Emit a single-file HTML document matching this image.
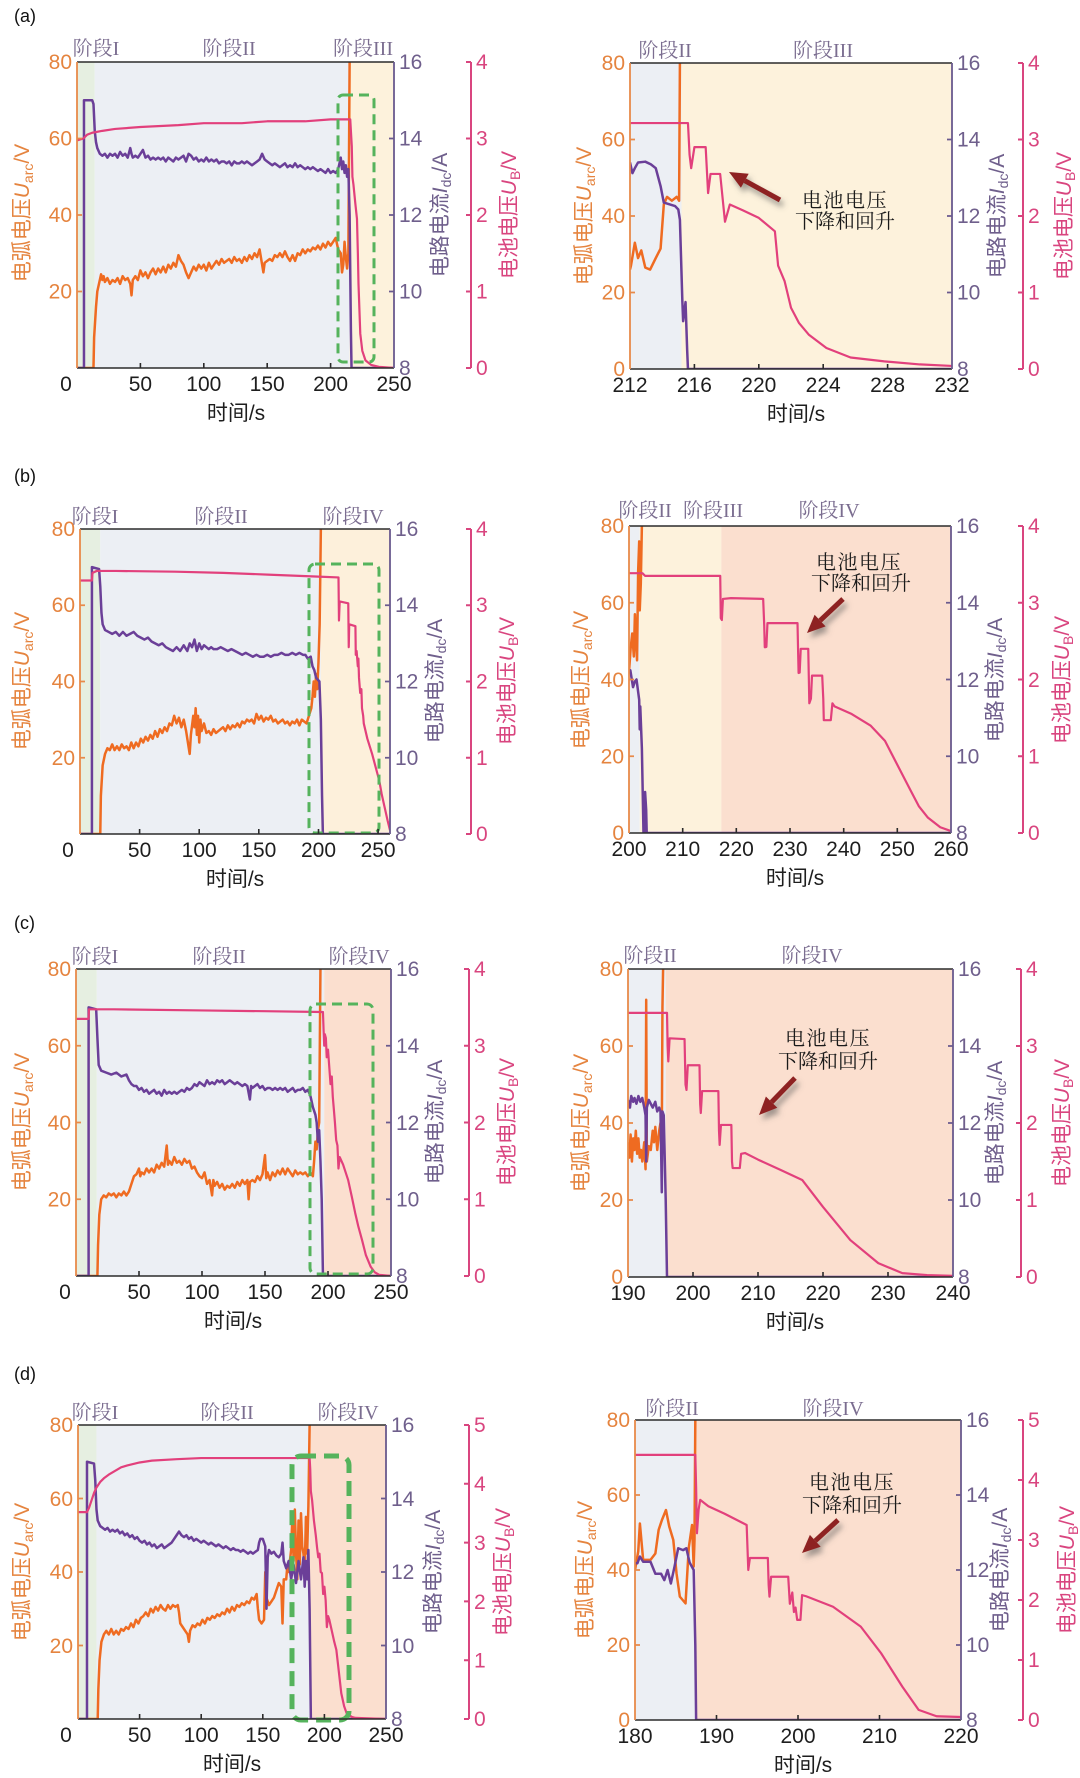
<!DOCTYPE html>
<html><head><meta charset="utf-8">
<style>
html,body{margin:0;padding:0;background:#fff;}
svg{display:block;}
.tk{font-family:"Liberation Sans","Noto Sans CJK SC",sans-serif;font-size:21px;}
.or{fill:#e5843f;}
.pu{fill:#6f5f8c;}
.pk{fill:#d9457f;}
.bk{fill:#1e1e1e;}
.ph{font-family:"Liberation Serif","Noto Serif CJK SC",serif;font-size:20px;fill:#7b6d90;}
.an{font-family:"Liberation Serif","Noto Serif CJK SC",serif;font-size:20px;fill:#1a1a1a;}
.ax{font-family:"Liberation Sans","Noto Sans CJK SC",sans-serif;font-size:21px;}
.lo{fill:none;stroke:#ef6b21;stroke-width:2.5;stroke-linejoin:round;}
.lp{fill:none;stroke:#6b3f98;stroke-width:2.5;stroke-linejoin:round;}
.lk{fill:none;stroke:#e2407c;stroke-width:2.2;stroke-linejoin:round;}
.fr{stroke:#2b2b2b;stroke-width:1.6;fill:none;}
.ao{stroke:#e88a4a;stroke-width:1.8;fill:none;}
.ap{stroke:#6a5a8e;stroke-width:1.8;fill:none;}
.ak{stroke:#d9457f;stroke-width:2;fill:none;}
.gb{fill:none;stroke:#55b35c;stroke-width:3;stroke-dasharray:10 6;}
</style></head>
<body>
<svg width="1080" height="1778" viewBox="0 0 1080 1778" xmlns="http://www.w3.org/2000/svg">
<defs>
<filter id="sh" x="-50%" y="-50%" width="200%" height="200%">
<feDropShadow dx="3" dy="5" stdDeviation="3" flood-color="#555" flood-opacity="0.55"/>
</filter>
</defs>
<rect width="1080" height="1778" fill="#fff"/>

<!-- ================= (a) LEFT ================= -->
<svg x="77" y="62" width="317" height="306" viewBox="0 0 250 80" preserveAspectRatio="none">
<g transform="translate(0,80) scale(1,-1)">
<rect x="0" y="0" width="14" height="80" fill="#e6efe1"/>
<rect x="14" y="0" width="201" height="80" fill="#eceff4"/>
<rect x="215" y="0" width="35" height="80" fill="#fdf2dc"/>
<polyline vector-effect="non-scaling-stroke" class="lo" points="0,0 13,0 13.5,8 15,16 16,20 18,23 19,24.5 20,23 21,24 22,22.5 24,23.5 26,22 28,23 30,22.5 32,23.5 34,22 36,24 38,23 40,23.5 42,22 43,19 44,23 46,24 48,23 50,25.5 52,24 54,25 56,23.5 58,25 60,26 62,24.5 64,26 66,25 68,26.5 70,25 72,27 74,26 76,27.5 78,26.5 80,29.5 82,28 84,27 86,25 88,23.5 90,25 92,26.5 94,25.5 96,27 98,26 100,27 102,25.5 104,27.5 106,26 108,27 110,28 112,27 114,28.5 116,27.5 118,28 120,28.5 122,27.5 124,29 126,28 128,28.5 130,27.5 132,29 134,28 136,29.5 138,28.5 140,30 142,29 144,31 146,27 147,25 148,27.5 150,28 152,28.5 154,28 156,29.5 158,29 160,30 162,29 164,30.5 166,29 168,28 170,29.5 172,28 174,30 176,29.5 178,31 180,30 182,31 184,30.5 186,31.5 188,31 190,32 192,31 194,32.5 196,31.5 198,33 200,32 202,33 204,34 206,31 208,30 209,25 210,27 211,33 212,29 213,26 214,30 215,80 215.2,86 250,86"/>
<polyline vector-effect="non-scaling-stroke" class="lp" points="0,0 5.5,0 5.5,70 12,70 13,69 14,62 15,59 16,57.5 18,56 20,55.5 22,56 24,55 26,56 28,55.5 30,56 32,55 34,56.5 36,55.5 38,56 40,55 42,57.5 43,56 44,55 46,55.5 48,55 50,56 52,57 54,55 56,55.5 58,54.5 60,55 62,54.5 64,55 66,54.5 68,55 70,54 72,55 74,54.5 76,54 78,55 80,54.5 82,55 84,55.5 86,54 88,56 90,55.5 92,54.5 94,55 96,54 98,54.5 100,54 102,55 104,54 106,54.5 108,54 110,54.5 112,53.5 114,54 116,54 118,53.5 120,54 122,53 124,54 126,53.5 128,53.5 130,54 132,53.5 134,54 136,53.5 138,53 140,53.5 142,54 144,54.5 146,56 148,54.5 150,54 152,53.5 154,53 156,53.5 158,53 160,52.5 162,53 164,53.5 166,52.5 168,53 170,52.5 172,53.5 174,52.5 176,53 178,52.5 180,52 182,52.5 184,52 186,52.5 188,52 190,51.5 192,52 194,51.5 196,51 198,52 200,51 202,51.5 204,51 206,52 208,55 209,52 210,54 211,51 212,53 213,50 214,52 215,40 216,10 216.5,0 250,0"/>
<polyline vector-effect="non-scaling-stroke" class="lk" points="0,59.5 5,60 8,61 12,61.5 20,62 30,62.5 50,63 80,63.5 100,64 130,64 150,64.5 180,64.5 200,65 214,65 215.5,65 216,62 216.7,58 217.2,50 218,48 219.5,43 220.8,39 221.5,30 222,22 223.4,9 225,4.5 227.5,2 232,0.8 238,0.3 250,0"/>
</g></svg>
<rect class="gb" x="338" y="95" width="36" height="267" rx="5"/>
<path class="fr" d="M77 62H394M77 368H394"/>
<path class="ao" d="M77 62V368M77 291.5h5M77 215h5M77 138.5h5"/>
<path class="ap" d="M394 62V368M394 291.5h-5M394 215h-5M394 138.5h-5"/>
<path class="fr" d="M140.4 368v-5M203.8 368v-5M267.2 368v-5M330.6 368v-5"/>
<path class="ak" d="M471 62V368M471 62h-5M471 138.5h-5M471 215h-5M471 291.5h-5M471 368h-5"/>
<g class="tk or" text-anchor="end"><text x="72" y="69">80</text><text x="72" y="145.5">60</text><text x="72" y="222">40</text><text x="72" y="298.5">20</text></g>
<g class="tk pu"><text x="399" y="69">16</text><text x="399" y="145.5">14</text><text x="399" y="222">12</text><text x="399" y="298.5">10</text><text x="399" y="375">8</text></g>
<g class="tk pk"><text x="476" y="69">4</text><text x="476" y="145.5">3</text><text x="476" y="222">2</text><text x="476" y="298.5">1</text><text x="476" y="375">0</text></g>
<g class="tk bk" text-anchor="middle"><text x="66" y="391">0</text><text x="140.4" y="391">50</text><text x="203.8" y="391">100</text><text x="267.2" y="391">150</text><text x="330.6" y="391">200</text><text x="394" y="391">250</text></g>
<text class="ax bk" x="236" y="420" text-anchor="middle">时间/s</text>

<!-- ================= (a) RIGHT ================= -->
<svg x="630" y="63" width="322" height="306" viewBox="0 0 20 80" preserveAspectRatio="none">
<g transform="translate(-212,80) scale(1,-1)">
<rect x="212" y="0" width="3.2" height="80" fill="#eceff4"/>
<rect x="215.2" y="0" width="17" height="80" fill="#fdf2dc"/>
<polyline vector-effect="non-scaling-stroke" class="lo" points="212,26 212.06,27 212.3,33 212.5,29 212.7,31 212.95,26.5 213.25,26 213.6,29 213.9,31.5 214.1,43 214.3,45 214.6,44 214.9,45 215.05,44 215.1,80 215.12,86 232,86"/>
<polyline vector-effect="non-scaling-stroke" class="lp" points="212,54 212.15,51.2 212.3,52.5 212.5,54 212.95,54.2 213.3,53.5 213.6,52.5 213.9,47.8 214.1,43.5 214.8,42.6 215,41.7 215.1,39 215.25,18 215.3,12.5 215.45,17.5 215.55,5 215.6,0 232,0"/>
<polyline vector-effect="non-scaling-stroke" class="lk" points="212,64.3 215.6,64.3 215.7,56 215.8,52.5 216.0,58 216.7,58 216.85,46 217.0,51 217.6,51 217.9,38.5 218.2,43 219,41.5 220,39.5 221,36 221.2,27 221.6,23 222,16 222.5,12 223.1,9 224.2,5.5 225.7,3 227.8,2 230,1.2 232,0.8"/>
</g></svg>
<path class="fr" d="M630 63H952M630 369H952"/>
<path class="ao" d="M630 63V369M630 292.5h5M630 216h5M630 139.5h5"/>
<path class="ap" d="M952 63V369M952 292.5h-5M952 216h-5M952 139.5h-5"/>
<path class="fr" d="M694.4 369v-5M758.8 369v-5M823.2 369v-5M887.6 369v-5"/>
<path class="ak" d="M1023 63V369M1023 63h-5M1023 139.5h-5M1023 216h-5M1023 292.5h-5M1023 369h-5"/>
<g class="tk or" text-anchor="end"><text x="625" y="70">80</text><text x="625" y="146.5">60</text><text x="625" y="223">40</text><text x="625" y="299.5">20</text><text x="625" y="376">0</text></g>
<g class="tk pu"><text x="957" y="70">16</text><text x="957" y="146.5">14</text><text x="957" y="223">12</text><text x="957" y="299.5">10</text><text x="957" y="376">8</text></g>
<g class="tk pk"><text x="1028" y="70">4</text><text x="1028" y="146.5">3</text><text x="1028" y="223">2</text><text x="1028" y="299.5">1</text><text x="1028" y="376">0</text></g>
<g class="tk bk" text-anchor="middle"><text x="630" y="392">212</text><text x="694.4" y="392">216</text><text x="758.8" y="392">220</text><text x="823.2" y="392">224</text><text x="887.6" y="392">228</text><text x="952" y="392">232</text></g>
<text class="ax bk" x="796" y="421" text-anchor="middle">时间/s</text>

<!-- ================= (b) LEFT ================= -->
<svg x="80" y="529" width="310" height="305" viewBox="0 0 260 80" preserveAspectRatio="none">
<g transform="translate(0,80) scale(1,-1)">
<rect x="0" y="0" width="17" height="80" fill="#e6efe1"/>
<rect x="17" y="0" width="185" height="80" fill="#eceff4"/>
<rect x="202" y="0" width="58" height="80" fill="#fdf0db"/>
<polyline vector-effect="non-scaling-stroke" class="lo" points="0,0 17,0 17.5,10 19,18 21,21 23,22.5 25,22 27,23.5 29,22 31,23 33,22 35,23.5 37,22.5 39,23 41,22 43,24 45,22.5 47,24 49,23 51,25 53,24 55,25.5 57,24.5 59,26 61,25 63,27 65,25.5 67,27.5 69,26.5 71,28 73,27 75,29 77,28.5 79,31 81,29 83,30.5 85,28 87,30 89,27 91,23 92,21 93,26 95,31 96,28 97,33 98,26 99,31 100,24 101,30 102,27 104,29 106,26.5 108,27 110,26 112,27.5 114,26.5 116,27 118,27.5 120,28 122,27 124,28.5 126,27.5 128,28.5 130,28 132,29 134,28 136,29.5 138,29 140,30 142,29.5 144,30 146,29 148,31.5 150,30 152,31 154,29.5 156,30.5 158,30 160,31 162,29.5 164,30 166,29 168,29.5 170,30 172,29 174,29.5 176,28.5 178,29.5 180,29 182,30 184,28.5 186,30 188,29.5 190,29 192,31 194,33 195,36 196,40 197,36 198,42 199,38 200,45 201,55 202,80 202.2,86 260,86"/>
<polyline vector-effect="non-scaling-stroke" class="lp" points="0,0 10,0 10,70 16,69.5 17,65 18,58 19,55 21,53.5 24,53 27,52.5 30,53 33,52 36,53 39,52 42,52.5 45,53 48,52 51,51.5 54,51 57,51.5 60,50.5 63,50 66,49.5 69,50 72,49 75,48.5 78,48 81,49 84,48 87,49.5 90,48 92,50 94,49 96,51 98,48 100,50 102,48.5 104,49.5 106,49 108,48.5 110,49 112,48.5 115,48.5 118,49 121,48.5 124,48 127,48.5 130,48 133,47.5 136,47 139,47.5 142,47 145,46.5 148,47 151,46.5 154,46.5 157,47 160,46.5 163,47 166,47 169,47.5 172,47 175,47 178,47.5 181,47 184,47.5 187,47 189,47 191,46 193.5,46.5 195,44 196.5,43 198,41 200.8,40 202,30 203,10 203.7,0 260,0"/>
<polyline vector-effect="non-scaling-stroke" class="lk" points="0,66.5 10,66.5 10.5,68.5 14,69 30,69 80,68.8 120,68.5 160,68 200,67.5 216.8,67.3 217.2,56 217.8,61 225,60.5 225.4,49 225.8,55 231,54.5 231.3,47 232,48 233,44 233.5,46 234,41 235,37 236,38 236.5,33 237.5,31 238,29 241,25 245,21 248,17.5 251,14 253,10.5 255.5,7 258,3.5 260,1"/>
</g></svg>
<rect class="gb" x="309" y="564" width="70" height="269" rx="6"/>
<path class="fr" d="M80 529H390M80 834H390"/>
<path class="ao" d="M80 529V834M80 757.75h5M80 681.5h5M80 605.25h5"/>
<path class="ap" d="M390 529V834M390 757.75h-5M390 681.5h-5M390 605.25h-5"/>
<path class="fr" d="M139.6 834v-5M199.2 834v-5M258.8 834v-5M318.5 834v-5M378.1 834v-5"/>
<path class="ak" d="M471 529V834M471 529h-5M471 605.25h-5M471 681.5h-5M471 757.75h-5M471 834h-5"/>
<g class="tk or" text-anchor="end"><text x="75" y="536">80</text><text x="75" y="612">60</text><text x="75" y="688.5">40</text><text x="75" y="765">20</text></g>
<g class="tk pu"><text x="395" y="536">16</text><text x="395" y="612">14</text><text x="395" y="688.5">12</text><text x="395" y="765">10</text><text x="395" y="841">8</text></g>
<g class="tk pk"><text x="476" y="536">4</text><text x="476" y="612">3</text><text x="476" y="688.5">2</text><text x="476" y="765">1</text><text x="476" y="841">0</text></g>
<g class="tk bk" text-anchor="middle"><text x="68" y="857">0</text><text x="139.6" y="857">50</text><text x="199.2" y="857">100</text><text x="258.8" y="857">150</text><text x="318.5" y="857">200</text><text x="378.1" y="857">250</text></g>
<text class="ax bk" x="235" y="886" text-anchor="middle">时间/s</text>

<!-- ================= (b) RIGHT ================= -->
<svg x="629" y="526" width="322" height="307" viewBox="0 0 60 80" preserveAspectRatio="none">
<g transform="translate(-200,80) scale(1,-1)">
<rect x="200" y="0" width="2" height="80" fill="#eceff4"/>
<rect x="202" y="0" width="15.2" height="80" fill="#fdf2dc"/>
<rect x="217.2" y="0" width="43" height="80" fill="#fbdfcf"/>
<polyline vector-effect="non-scaling-stroke" class="lo" points="200,42 200.3,48 200.6,52 200.9,46 201.1,57 201.3,50 201.5,45 201.7,68 201.9,76 202.0,58 202.2,65 202.4,80 202.5,86 260,86"/>
<polyline vector-effect="non-scaling-stroke" class="lp" points="200,42 200.25,42.4 200.75,38 201.1,39.5 201.4,40 201.9,34.7 202,27 202.1,33 202.4,22 202.7,0 202.9,0 203,10.7 203.2,6 203.3,0 260,0"/>
<polyline vector-effect="non-scaling-stroke" class="lk" points="200,67.7 202.5,67.7 203,67 217,67 217.1,56 217.3,55.5 217.5,61 219,61.2 225,61 225.2,54 225.3,48.4 225.6,48.5 225.8,54.7 231.4,54.7 231.5,48 231.6,41.7 231.8,41.8 232,48 233.4,48 233.5,41 233.6,33.8 233.9,35 234.1,41 236,41 236.2,35 236.3,29.4 237.6,29.4 237.9,33.8 238.3,33 241.5,31 245,28 247.7,24 250.8,15.6 252.5,11 254,7 255.7,4 258,1.5 260,0.5"/>
</g></svg>
<path class="fr" d="M629 526H951M629 833H951"/>
<path class="ao" d="M629 526V833M629 756.25h5M629 679.5h5M629 602.75h5"/>
<path class="ap" d="M951 526V833M951 756.25h-5M951 679.5h-5M951 602.75h-5"/>
<path class="fr" d="M682.7 833v-5M736.3 833v-5M790 833v-5M843.7 833v-5M897.3 833v-5"/>
<path class="ak" d="M1023 526V833M1023 526h-5M1023 602.75h-5M1023 679.5h-5M1023 756.25h-5M1023 833h-5"/>
<g class="tk or" text-anchor="end"><text x="624" y="533">80</text><text x="624" y="610">60</text><text x="624" y="687">40</text><text x="624" y="763.5">20</text><text x="624" y="840">0</text></g>
<g class="tk pu"><text x="956" y="533">16</text><text x="956" y="610">14</text><text x="956" y="687">12</text><text x="956" y="763.5">10</text><text x="956" y="840">8</text></g>
<g class="tk pk"><text x="1028" y="533">4</text><text x="1028" y="610">3</text><text x="1028" y="687">2</text><text x="1028" y="763.5">1</text><text x="1028" y="840">0</text></g>
<g class="tk bk" text-anchor="middle"><text x="629" y="856">200</text><text x="682.7" y="856">210</text><text x="736.3" y="856">220</text><text x="790" y="856">230</text><text x="843.7" y="856">240</text><text x="897.3" y="856">250</text><text x="951" y="856">260</text></g>
<text class="ax bk" x="795" y="885" text-anchor="middle">时间/s</text>

<!-- ================= (c) LEFT ================= -->
<svg x="76" y="969" width="315" height="307" viewBox="0 0 250 80" preserveAspectRatio="none">
<g transform="translate(0,80) scale(1,-1)">
<rect x="0" y="0" width="16.5" height="80" fill="#e6efe1"/>
<rect x="16.5" y="0" width="180.5" height="80" fill="#eceff4"/>
<rect x="197" y="0" width="53" height="80" fill="#fbdfcf"/>
<polyline vector-effect="non-scaling-stroke" class="lo" points="0,0 17,0 17.5,8 18.5,16 20,20 22,21 24,20.5 26,21.5 28,21 30,21.5 32,20.5 34,21.5 36,21 38,22 40,21 42,22 44,24 46,26 48,26.5 50,28 51,26 52,27 54,26.5 56,28 58,27 60,28 62,27 64,29 66,28 68,29.5 70,28.5 72,34 73,29 74,30 76,29 78,31 80,29.5 82,30 84,29 86,30.5 88,29.5 90,30 92,28 94,28.5 96,27 98,26 100,25.5 102,27 104,24 106,25 108,21 109,25 110,23.5 112,24.5 114,23 116,24 118,22.5 120,23.5 122,23 124,24 126,23 128,24.5 130,23.5 132,25 134,24 136,25 137,20 138,24.5 140,25 142,24.5 144,26 146,25 148,26.5 150,31.5 151,25.5 152,27 154,25 156,27 158,26 160,27.5 162,26.5 164,28 166,26.5 168,28 170,27 172,26 174,27.5 176,26.5 178,27 180,26.5 182,27 184,26 186,27 188,26 189,30 190,35 191,33 192,38 193,40 194,80 194.5,86 250,86"/>
<polyline vector-effect="non-scaling-stroke" class="lp" points="0,0 10,0 10,70 16,69.5 17,62 18,55 20,53.5 24,53 28,52.5 32,53 36,52 40,52.5 42,51 44,50 46,49.5 48,49.5 50,48.5 52,49 54,48 56,48.5 58,47.5 60,48 62,48.5 64,47.5 66,48 68,47 70,48.5 72,47.5 74,48 76,47.5 78,48 80,47.5 82,48 84,48.5 86,48 88,49 90,48.5 92,49 94,50 96,49.5 98,50.5 100,50 102,49.5 104,51 106,50 108,50.5 110,50 112,51 114,50.5 116,51 118,50 120,50.5 122,51 124,50.5 126,50 128,50.5 130,50 132,49.5 134,50 136,49.5 138,46 139,49.5 140,49 142,49.5 144,50 146,49 148,49.5 150,48.5 152,49 154,49 156,48.5 158,49 160,48.5 162,49 164,48.5 166,49 168,48 170,48.5 172,49 174,48 176,48.5 178,48.5 180,49 182,48 184,48.5 186,47 188,44 190,42 191,40 192,35 193,38 194,30 195,20 196,0 250,0"/>
<polyline vector-effect="non-scaling-stroke" class="lk" points="0,67 10,67 10.3,69.5 30,69.5 100,69.2 150,69 195,68.8 196,68.8 196.5,64 197,60 197.5,63 198.3,62 199,57 200,59 201,54.5 202,50 203,52 203.8,46.7 204.5,44 205.5,40 206.5,35.4 207.5,34 208.3,28 209.3,31 212,29 216,25 219,20.5 221.6,16.4 224,13 227,9.4 230,5.5 233.9,2.4 237,1 240.6,0.3 250,0"/>
</g></svg>
<rect class="gb" x="310" y="1004" width="63" height="270" rx="6"/>
<path class="fr" d="M76 969H391M76 1276H391"/>
<path class="ao" d="M76 969V1276M76 1199.25h5M76 1122.5h5M76 1045.75h5"/>
<path class="ap" d="M391 969V1276M391 1199.25h-5M391 1122.5h-5M391 1045.75h-5"/>
<path class="fr" d="M139 1276v-5M202 1276v-5M265 1276v-5M328 1276v-5"/>
<path class="ak" d="M469 969V1276M469 969h-5M469 1045.75h-5M469 1122.5h-5M469 1199.25h-5M469 1276h-5"/>
<g class="tk or" text-anchor="end"><text x="71" y="976">80</text><text x="71" y="1053">60</text><text x="71" y="1130">40</text><text x="71" y="1206.5">20</text></g>
<g class="tk pu"><text x="396" y="976">16</text><text x="396" y="1053">14</text><text x="396" y="1130">12</text><text x="396" y="1206.5">10</text><text x="396" y="1283">8</text></g>
<g class="tk pk"><text x="474" y="976">4</text><text x="474" y="1053">3</text><text x="474" y="1130">2</text><text x="474" y="1206.5">1</text><text x="474" y="1283">0</text></g>
<g class="tk bk" text-anchor="middle"><text x="65" y="1299">0</text><text x="139" y="1299">50</text><text x="202" y="1299">100</text><text x="265" y="1299">150</text><text x="328" y="1299">200</text><text x="391" y="1299">250</text></g>
<text class="ax bk" x="233" y="1328" text-anchor="middle">时间/s</text>

<!-- ================= (c) RIGHT ================= -->
<svg x="628" y="969" width="325" height="308" viewBox="0 0 50 80" preserveAspectRatio="none">
<g transform="translate(-190,80) scale(1,-1)">
<rect x="190" y="0" width="5.8" height="80" fill="#eceff4"/>
<rect x="195.8" y="0" width="45" height="80" fill="#fbdfcf"/>
<polyline vector-effect="non-scaling-stroke" class="lo" points="190,35 190.2,31 190.4,37 190.6,30 190.8,36 191,33 191.2,38 191.4,32 191.6,36 191.8,31 192,33 192.2,30 192.5,35 192.7,28 192.8,72 192.9,30 193.2,34 193.5,33 193.8,38 194,35 194.2,39 194.5,33 194.8,38 195,40 195.2,36 195.3,70 195.4,80 195.45,86 240,86"/>
<polyline vector-effect="non-scaling-stroke" class="lp" points="190,46 190.3,44 190.5,47 190.8,45.5 191,46.5 191.3,45 191.6,47 191.9,45.5 192.2,46.5 192.5,44 192.7,42 192.8,30 192.9,44 193.2,46 193.5,45 193.8,44 194.2,45.5 194.5,43 194.8,44 195,43 195.2,22 195.3,43 195.5,42 195.8,20 196,0 240,0"/>
<polyline vector-effect="non-scaling-stroke" class="lk" points="190,68.6 196,68.6 196.1,60 196.2,56 196.4,62 198.7,61.8 198.85,50 199,48.6 199.2,55 201,55 201.1,45 201.2,42.6 201.4,48.3 203.9,48.3 204.0,38 204.1,34.3 204.3,39.5 205.9,39.5 206,30 206.1,28.3 207.2,28.3 207.4,32 208,32.2 210,30.5 213.5,27.8 216.8,25.2 220,18.2 224.2,9.6 228.5,3.6 232.2,1 236,0.5 240,0.3"/>
</g></svg>
<path class="fr" d="M628 969H953M628 1277H953"/>
<path class="ao" d="M628 969V1277M628 1200h5M628 1123h5M628 1046h5"/>
<path class="ap" d="M953 969V1277M953 1200h-5M953 1123h-5M953 1046h-5"/>
<path class="fr" d="M693 1277v-5M758 1277v-5M823 1277v-5M888 1277v-5"/>
<path class="ak" d="M1021 969V1277M1021 969h-5M1021 1046h-5M1021 1123h-5M1021 1200h-5M1021 1277h-5"/>
<g class="tk or" text-anchor="end"><text x="623" y="976">80</text><text x="623" y="1053">60</text><text x="623" y="1130">40</text><text x="623" y="1207">20</text><text x="623" y="1284">0</text></g>
<g class="tk pu"><text x="958" y="976">16</text><text x="958" y="1053">14</text><text x="958" y="1130">12</text><text x="958" y="1207">10</text><text x="958" y="1284">8</text></g>
<g class="tk pk"><text x="1026" y="976">4</text><text x="1026" y="1053">3</text><text x="1026" y="1130">2</text><text x="1026" y="1207">1</text><text x="1026" y="1284">0</text></g>
<g class="tk bk" text-anchor="middle"><text x="628" y="1300">190</text><text x="693" y="1300">200</text><text x="758" y="1300">210</text><text x="823" y="1300">220</text><text x="888" y="1300">230</text><text x="953" y="1300">240</text></g>
<text class="ax bk" x="795" y="1329" text-anchor="middle">时间/s</text>

<!-- ================= (d) LEFT ================= -->
<svg x="78" y="1425" width="308" height="294" viewBox="0 0 250 80" preserveAspectRatio="none">
<g transform="translate(0,80) scale(1,-1)">
<rect x="0" y="0" width="15" height="80" fill="#e6efe1"/>
<rect x="15" y="0" width="173" height="80" fill="#eceff4"/>
<rect x="188" y="0" width="62" height="80" fill="#fbdfcf"/>
<polyline vector-effect="non-scaling-stroke" class="lo" points="0,0 16,0 16.5,8 17.5,16 19,21 21,23 23,24 25,23 27,24.5 29,23 31,24 33,23 35,24.5 37,24 39,25 41,24.5 43,26 45,25 47,27 49,26 51,27.5 53,28 55,29 57,28 59,30 61,29 63,30.5 65,29.5 67,31 69,30 71,29.5 73,31 75,30 77,31 79,30.5 81,31 82,29 83,26 85,25 87,24 89,23 90,21 91,24 93,25.5 95,25 97,26 99,25.5 101,27 103,26 105,27.5 107,27 109,28 111,27.5 113,28.5 115,28 117,29 119,28.5 121,30 123,29 125,30.5 127,29.5 129,31 131,30.5 133,31.5 135,31 137,32 139,31.5 141,33 143,32.5 145,34 146,30 147,27 149,26 151,27 152,40 153,33 155,31 157,32 159,33 161,35 163,37 165,36 166,26 167,38 169,38 170,42 171,40 173,46 174,55 175,43 176,57 177,45 178,38 179,54 180,42 181,56 182,47 183,45 184,40 185,55 186,45 187,58 188,80 188.5,86 250,86"/>
<polyline vector-effect="non-scaling-stroke" class="lp" points="0,0 7.3,0 7.3,70 13,69.5 14,65 15,57 16,54 18,52.5 20,52 22,51.5 24,52 26,51 28,51.5 30,51 32,51.5 34,50.5 36,51 38,50 40,50.5 42,49.5 44,50 46,49 48,49.5 50,48.5 52,48 54,48.5 56,47.5 58,48 60,47 62,47.5 64,46.5 66,47 68,47.5 70,46.5 72,47 74,47.5 76,48 78,49 80,50 82,51 84,50 86,49.5 88,50 90,49 92,49.5 94,48.5 96,49 98,48.5 100,48 102,48.5 104,48 106,47.5 108,48 110,47.5 112,47 114,47.5 116,47 118,46.5 120,47 122,46.5 124,46 126,46.5 128,46 130,46 132,45.5 134,46 136,45.5 138,45 140,45.5 142,45 144,45.5 146,46 147,48 148,49 150,49 151,48 152,47 153,30 154,44 155,46 157,45 159,45.5 161,44.5 163,44 165,45 166,48 167,43 169,41 171,43 173,38 175,42 177,37 179,43 181,38 183,44 184,36 185,43 186,38 187,46 188,30 189,0 250,0"/>
<polyline vector-effect="non-scaling-stroke" class="lk" points="0,56.3 7.3,56.3 9,57.5 11,59.5 13,61.5 15,63 18,64.5 21,65.5 25,66.5 30,67.5 35,68.5 40,69 50,69.8 60,70.3 80,70.7 100,71 150,71 188,71 188.5,68 189,62 190,59.6 191.5,54 193,50 194,46.8 195,44 196,45 197,40 198,39.7 199,34 200,36 201,32.4 202,25 203,28 204,27 206,24 208,21 209.7,18.8 211,15 213.7,7 216,3.5 218,1.6 222,0.6 225,0.3 250,0"/>
</g></svg>
<rect x="292" y="1456" width="57" height="264" rx="9" fill="none" stroke="#55b35c" stroke-width="5" stroke-dasharray="15 8"/>
<path class="fr" d="M78 1425H386M78 1719H386"/>
<path class="ao" d="M78 1425V1719M78 1645.5h5M78 1572h5M78 1498.5h5"/>
<path class="ap" d="M386 1425V1719M386 1645.5h-5M386 1572h-5M386 1498.5h-5"/>
<path class="fr" d="M139.6 1719v-5M201.2 1719v-5M262.8 1719v-5M324.4 1719v-5"/>
<path class="ak" d="M469 1425V1719M469 1425h-5M469 1483.8h-5M469 1542.6h-5M469 1601.4h-5M469 1660.2h-5M469 1719h-5"/>
<g class="tk or" text-anchor="end"><text x="73" y="1432">80</text><text x="73" y="1506">60</text><text x="73" y="1579">40</text><text x="73" y="1653">20</text></g>
<g class="tk pu"><text x="391" y="1432">16</text><text x="391" y="1506">14</text><text x="391" y="1579">12</text><text x="391" y="1653">10</text><text x="391" y="1726">8</text></g>
<g class="tk pk"><text x="474" y="1432">5</text><text x="474" y="1491">4</text><text x="474" y="1550">3</text><text x="474" y="1609">2</text><text x="474" y="1667.5">1</text><text x="474" y="1726">0</text></g>
<g class="tk bk" text-anchor="middle"><text x="66" y="1742">0</text><text x="139.6" y="1742">50</text><text x="201.2" y="1742">100</text><text x="262.8" y="1742">150</text><text x="324.4" y="1742">200</text><text x="386" y="1742">250</text></g>
<text class="ax bk" x="232" y="1771" text-anchor="middle">时间/s</text>

<!-- ================= (d) RIGHT ================= -->
<svg x="635" y="1420" width="326" height="300" viewBox="0 0 40 80" preserveAspectRatio="none">
<g transform="translate(-180,80) scale(1,-1)">
<rect x="180" y="0" width="7.4" height="80" fill="#eceff4"/>
<rect x="187.4" y="0" width="33" height="80" fill="#fbdfcf"/>
<polyline vector-effect="non-scaling-stroke" class="lo" points="180,40 180.4,45 180.6,52.4 181,42.7 181.9,42.7 182.5,44.4 182.9,50.7 183.3,53.3 183.8,56 184.2,51.6 184.7,48 185.1,39 185.5,32.9 186.2,31.1 186.6,46 187,52 187.2,40.9 187.3,48 187.4,80 187.45,86 220,86"/>
<polyline vector-effect="non-scaling-stroke" class="lp" points="180,41.8 180.3,41.8 180.6,43.6 181,42.2 181.9,42.2 182.5,39 183.2,39 183.6,37.3 184,40 184.4,36.4 184.85,40.9 185.3,45.8 185.9,45.3 186.3,45.8 186.7,42 187.2,40 187.4,20 187.5,0 220,0"/>
<polyline vector-effect="non-scaling-stroke" class="lk" points="180,70.7 187.4,70.7 187.5,62 187.6,49.8 187.8,56 188,58.7 189,57 191,55 193.7,52 193.8,46 193.9,40 194.1,43.2 196.3,43.2 196.4,36 196.5,32.9 196.7,38.2 198.8,38.2 199,31 199.3,34 199.5,28.8 199.7,30 199.9,26.7 200.3,26.7 200.5,33.3 201,33 204.3,30.2 207.7,24.9 210.2,17.8 212.8,8.9 214.8,2.7 217,1 220,0.8"/>
</g></svg>
<path class="fr" d="M635 1420H961M635 1720H961"/>
<path class="ao" d="M635 1420V1720M635 1645h5M635 1570h5M635 1495h5"/>
<path class="ap" d="M961 1420V1720M961 1645h-5M961 1570h-5M961 1495h-5"/>
<path class="fr" d="M716.5 1720v-5M798 1720v-5M879.5 1720v-5"/>
<path class="ak" d="M1023 1420V1720M1023 1420h-5M1023 1480h-5M1023 1540h-5M1023 1600h-5M1023 1660h-5M1023 1720h-5"/>
<g class="tk or" text-anchor="end"><text x="630" y="1427">80</text><text x="630" y="1502">60</text><text x="630" y="1577">40</text><text x="630" y="1652">20</text><text x="630" y="1727">0</text></g>
<g class="tk pu"><text x="966" y="1427">16</text><text x="966" y="1502">14</text><text x="966" y="1577">12</text><text x="966" y="1652">10</text><text x="966" y="1727">8</text></g>
<g class="tk pk"><text x="1028" y="1427">5</text><text x="1028" y="1487">4</text><text x="1028" y="1547">3</text><text x="1028" y="1607">2</text><text x="1028" y="1667">1</text><text x="1028" y="1727">0</text></g>
<g class="tk bk" text-anchor="middle"><text x="635" y="1743">180</text><text x="716.5" y="1743">190</text><text x="798" y="1743">200</text><text x="879.5" y="1743">210</text><text x="961" y="1743">220</text></g>
<text class="ax bk" x="803" y="1772" text-anchor="middle">时间/s</text>

<!-- ================= Axis titles (rotated) ================= -->
<g class="ax">
<text class="or" text-anchor="middle" transform="translate(29,213) rotate(-90)">电弧电压<tspan font-style="italic">U</tspan><tspan font-size="14" dy="4">arc</tspan><tspan dy="-4">/V</tspan></text>
<text class="or" text-anchor="middle" transform="translate(591,216) rotate(-90)">电弧电压<tspan font-style="italic">U</tspan><tspan font-size="14" dy="4">arc</tspan><tspan dy="-4">/V</tspan></text>
<text class="or" text-anchor="middle" transform="translate(29,681) rotate(-90)">电弧电压<tspan font-style="italic">U</tspan><tspan font-size="14" dy="4">arc</tspan><tspan dy="-4">/V</tspan></text>
<text class="or" text-anchor="middle" transform="translate(588,680) rotate(-90)">电弧电压<tspan font-style="italic">U</tspan><tspan font-size="14" dy="4">arc</tspan><tspan dy="-4">/V</tspan></text>
<text class="or" text-anchor="middle" transform="translate(29,1122) rotate(-90)">电弧电压<tspan font-style="italic">U</tspan><tspan font-size="14" dy="4">arc</tspan><tspan dy="-4">/V</tspan></text>
<text class="or" text-anchor="middle" transform="translate(588,1123) rotate(-90)">电弧电压<tspan font-style="italic">U</tspan><tspan font-size="14" dy="4">arc</tspan><tspan dy="-4">/V</tspan></text>
<text class="or" text-anchor="middle" transform="translate(29,1572) rotate(-90)">电弧电压<tspan font-style="italic">U</tspan><tspan font-size="14" dy="4">arc</tspan><tspan dy="-4">/V</tspan></text>
<text class="or" text-anchor="middle" transform="translate(592,1570) rotate(-90)">电弧电压<tspan font-style="italic">U</tspan><tspan font-size="14" dy="4">arc</tspan><tspan dy="-4">/V</tspan></text>
<text class="pu" text-anchor="middle" transform="translate(447,215) rotate(-90)">电路电流<tspan font-style="italic">I</tspan><tspan font-size="14" dy="4">dc</tspan><tspan dy="-4">/A</tspan></text>
<text class="pu" text-anchor="middle" transform="translate(1004,216) rotate(-90)">电路电流<tspan font-style="italic">I</tspan><tspan font-size="14" dy="4">dc</tspan><tspan dy="-4">/A</tspan></text>
<text class="pu" text-anchor="middle" transform="translate(442,681) rotate(-90)">电路电流<tspan font-style="italic">I</tspan><tspan font-size="14" dy="4">dc</tspan><tspan dy="-4">/A</tspan></text>
<text class="pu" text-anchor="middle" transform="translate(1002,680) rotate(-90)">电路电流<tspan font-style="italic">I</tspan><tspan font-size="14" dy="4">dc</tspan><tspan dy="-4">/A</tspan></text>
<text class="pu" text-anchor="middle" transform="translate(442,1122) rotate(-90)">电路电流<tspan font-style="italic">I</tspan><tspan font-size="14" dy="4">dc</tspan><tspan dy="-4">/A</tspan></text>
<text class="pu" text-anchor="middle" transform="translate(1002,1123) rotate(-90)">电路电流<tspan font-style="italic">I</tspan><tspan font-size="14" dy="4">dc</tspan><tspan dy="-4">/A</tspan></text>
<text class="pu" text-anchor="middle" transform="translate(440,1572) rotate(-90)">电路电流<tspan font-style="italic">I</tspan><tspan font-size="14" dy="4">dc</tspan><tspan dy="-4">/A</tspan></text>
<text class="pu" text-anchor="middle" transform="translate(1007,1570) rotate(-90)">电路电流<tspan font-style="italic">I</tspan><tspan font-size="14" dy="4">dc</tspan><tspan dy="-4">/A</tspan></text>
<text class="pk" text-anchor="middle" transform="translate(516,215) rotate(-90)">电池电压<tspan font-style="italic">U</tspan><tspan font-size="14" dy="4">B</tspan><tspan dy="-4">/V</tspan></text>
<text class="pk" text-anchor="middle" transform="translate(1071,216) rotate(-90)">电池电压<tspan font-style="italic">U</tspan><tspan font-size="14" dy="4">B</tspan><tspan dy="-4">/V</tspan></text>
<text class="pk" text-anchor="middle" transform="translate(514,681) rotate(-90)">电池电压<tspan font-style="italic">U</tspan><tspan font-size="14" dy="4">B</tspan><tspan dy="-4">/V</tspan></text>
<text class="pk" text-anchor="middle" transform="translate(1069,680) rotate(-90)">电池电压<tspan font-style="italic">U</tspan><tspan font-size="14" dy="4">B</tspan><tspan dy="-4">/V</tspan></text>
<text class="pk" text-anchor="middle" transform="translate(514,1122) rotate(-90)">电池电压<tspan font-style="italic">U</tspan><tspan font-size="14" dy="4">B</tspan><tspan dy="-4">/V</tspan></text>
<text class="pk" text-anchor="middle" transform="translate(1069,1123) rotate(-90)">电池电压<tspan font-style="italic">U</tspan><tspan font-size="14" dy="4">B</tspan><tspan dy="-4">/V</tspan></text>
<text class="pk" text-anchor="middle" transform="translate(510,1572) rotate(-90)">电池电压<tspan font-style="italic">U</tspan><tspan font-size="14" dy="4">B</tspan><tspan dy="-4">/V</tspan></text>
<text class="pk" text-anchor="middle" transform="translate(1074,1570) rotate(-90)">电池电压<tspan font-style="italic">U</tspan><tspan font-size="14" dy="4">B</tspan><tspan dy="-4">/V</tspan></text>
</g>

<!-- ================= Phase labels ================= -->
<g class="ph" text-anchor="middle">
<text x="96" y="55">阶段I</text><text x="229" y="55">阶段II</text><text x="363" y="55">阶段III</text>
<text x="665" y="57">阶段II</text><text x="823" y="57">阶段III</text>
<text x="95" y="523">阶段I</text><text x="221" y="523">阶段II</text><text x="353" y="523">阶段IV</text>
<text x="645" y="517">阶段II</text><text x="713" y="517">阶段III</text><text x="829" y="517">阶段IV</text>
<text x="95" y="963">阶段I</text><text x="219" y="963">阶段II</text><text x="359" y="963">阶段IV</text>
<text x="650" y="962">阶段II</text><text x="812" y="962">阶段IV</text>
<text x="95" y="1419">阶段I</text><text x="227" y="1419">阶段II</text><text x="348" y="1419">阶段IV</text>
<text x="672" y="1415">阶段II</text><text x="833" y="1415">阶段IV</text>
</g>

<!-- ================= Panel letters ================= -->
<g font-family="Liberation Sans, sans-serif" font-size="18" fill="#111">
<text x="14" y="22">(a)</text>
<text x="14" y="482">(b)</text>
<text x="14" y="929">(c)</text>
<text x="14" y="1380">(d)</text>
</g>

<!-- ================= Annotations + arrows ================= -->
<g class="an" text-anchor="middle">
<text x="845" y="207" letter-spacing="1.5">电池电压</text><text x="845" y="228">下降和回升</text>
<text x="859" y="569" letter-spacing="1.5">电池电压</text><text x="861" y="590">下降和回升</text>
<text x="828" y="1045" letter-spacing="1.5">电池电压</text><text x="828" y="1068">下降和回升</text>
<text x="852" y="1489" letter-spacing="1.5">电池电压</text><text x="852" y="1512">下降和回升</text>
</g>
<g filter="url(#sh)" fill="#8e2323" stroke="#8e2323">
<line x1="780" y1="200" x2="744.8" y2="180.7" stroke-width="5"/>
<polygon points="729,172 748.7,173.7 740.9,187.7" stroke="none"/>
<line x1="843" y1="599" x2="820.1" y2="620.6" stroke-width="5"/>
<polygon points="807,633 814.6,614.8 825.6,626.4" stroke="none"/>
<line x1="795" y1="1078" x2="771.6" y2="1102.1" stroke-width="5"/>
<polygon points="759,1115 765.9,1096.5 777.3,1107.7" stroke="none"/>
<line x1="838" y1="1520" x2="815.3" y2="1540.8" stroke-width="5"/>
<polygon points="802,1553 809.9,1534.9 820.7,1546.7" stroke="none"/>
</g>
</svg>
</body></html>
